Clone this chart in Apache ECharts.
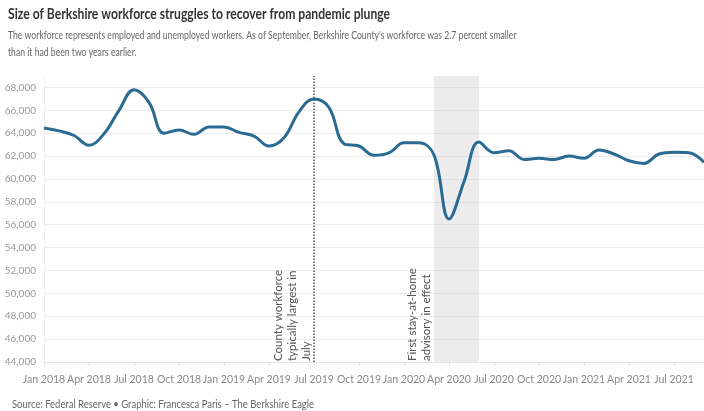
<!DOCTYPE html>
<html>
<head>
<meta charset="utf-8">
<script src="https://cdn.jsdelivr.net/npm/echarts@6/dist/echarts.min.js"></script>
<style>
  html, body { margin: 0; padding: 0; background: #fff; }
  #main { width: 704px; height: 411px; }
</style>
</head>
<body>
<div id="main"></div>
<script>
// months Jan 2018 - Sep 2021
var months = [
  'Jan 2018','Feb 2018','Mar 2018','Apr 2018','May 2018','Jun 2018','Jul 2018','Aug 2018','Sep 2018','Oct 2018','Nov 2018','Dec 2018',
  'Jan 2019','Feb 2019','Mar 2019','Apr 2019','May 2019','Jun 2019','Jul 2019','Aug 2019','Sep 2019','Oct 2019','Nov 2019','Dec 2019',
  'Jan 2020','Feb 2020','Mar 2020','Apr 2020','May 2020','Jun 2020','Jul 2020','Aug 2020','Sep 2020','Oct 2020','Nov 2020','Dec 2020',
  'Jan 2021','Feb 2021','Mar 2021','Apr 2021','May 2021','Jun 2021','Jul 2021','Aug 2021','Sep 2021'
];
// workforce (people)
var workforce = [
  64450, 64200, 63800, 62950, 63950, 66000, 67800, 66700, 64000, 64270, 63900, 64550,
  64550, 64070, 63750, 62880, 63600, 65870, 67000, 66250, 63080, 62880, 62070, 62280,
  63160, 63160, 62090, 56500, 59760, 63230, 62300, 62470, 61710, 61800, 61710, 62000,
  61800, 62530, 62180, 61590, 61360, 62180, 62330, 62300, 61450
];
var titleText = 'Size of Berkshire workforce struggles to recover from pandemic plunge';
var subText = 'The workforce represents employed and unemployed workers. As of September, Berkshire County\'s workforce was 2.7 percent smaller\nthan it had been two years earlier.';
var sourceText = 'Source: Federal Reserve \u2022 Graphic: Francesca Paris \u2013 The Berkshire Eagle';
var julyNote = 'County workforce\ntypically largest in\nJuly';
var stayNote = 'First stay-at-home\nadvisory in effect';
var fontFam = 'Lato, "Noto Sans", sans-serif';

var myChart = echarts.init(document.getElementById('main'));
var option = {
    backgroundColor: '#fff',
    grid: { left: 44, right: 0, top: 76, bottom: 49 },
    xAxis: {
        type: 'category',
        data: months,
        boundaryGap: false,
        axisLine: { lineStyle: { color: '#e4e4e4' } },
        axisTick: { interval: 2, length: 4, lineStyle: { color: '#ddd' } },
        axisLabel: { interval: 2, margin: 12, fontFamily: fontFam, fontSize: 10.5, color: '#888' },
        splitLine: { show: false }
    },
    yAxis: {
        type: 'value',
        min: 44000,
        max: 69000,
        interval: 1000,
        axisLine: { show: true, lineStyle: { color: '#eee' } },
        axisTick: { show: false },
        axisLabel: {
            margin: 8, fontFamily: fontFam, fontSize: 10, color: '#999',
            formatter: function (v) { return v % 2000 === 0 ? v.toLocaleString('en-US') : ''; }
        },
        // only every other line (the 2,000 steps) is visible
        splitLine: { lineStyle: { color: ['#ececec', 'rgba(0,0,0,0)'] } }
    },
    series: [{
        type: 'line',
        data: workforce,
        smooth: 0.4,
        symbol: 'none',
        lineStyle: { color: '#2b6a92', width: 3 },
        z: 5,
        markArea: {
            silent: true,
            itemStyle: { color: 'rgba(200,200,200,0.35)' },
            data: [[{ xAxis: 'Mar 2020' }, { xAxis: 'Jun 2020' }]]
        },
        markLine: {
            silent: true,
            symbol: ['none', 'none'],
            data: [
                {
                    xAxis: 'Jul 2019',
                    lineStyle: { color: '#555', type: 'dotted', width: 1.5 },
                    label: { show: true, formatter: julyNote, position: 'insideStartTop', distance: 1,
                        fontFamily: fontFam, fontSize: 11.5, color: '#555', lineHeight: 14, align: 'left' }
                },
                {
                    xAxis: 'Mar 2020',
                    lineStyle: { color: 'rgba(0,0,0,0)', width: 0 },
                    label: { show: true, formatter: stayNote, position: 'insideStartTop', distance: 1,
                        fontFamily: fontFam, fontSize: 11.5, color: '#555', lineHeight: 14, align: 'left' }
                }
            ]
        }
    }],
    // title block drawn as text, squeezed to the narrow face of the original
    graphic: [
        {
            type: 'text', x: 8, y: 7, scaleX: 0.81,
            style: { text: titleText, font: 'bold 15px ' + fontFam, fill: '#333', verticalAlign: 'top' }
        },
        {
            type: 'text', x: 8, y: 27, scaleX: 0.72,
            style: { text: subText, font: '12px ' + fontFam, fill: '#666', lineHeight: 17, verticalAlign: 'top' }
        },
        {
            type: 'text', x: 12, y: 399, scaleX: 0.9,
            style: { text: sourceText, font: '10.5px ' + fontFam, fill: '#666', verticalAlign: 'top' }
        }
    ]
};
myChart.setOption(option);
</script>
</body>
</html>
